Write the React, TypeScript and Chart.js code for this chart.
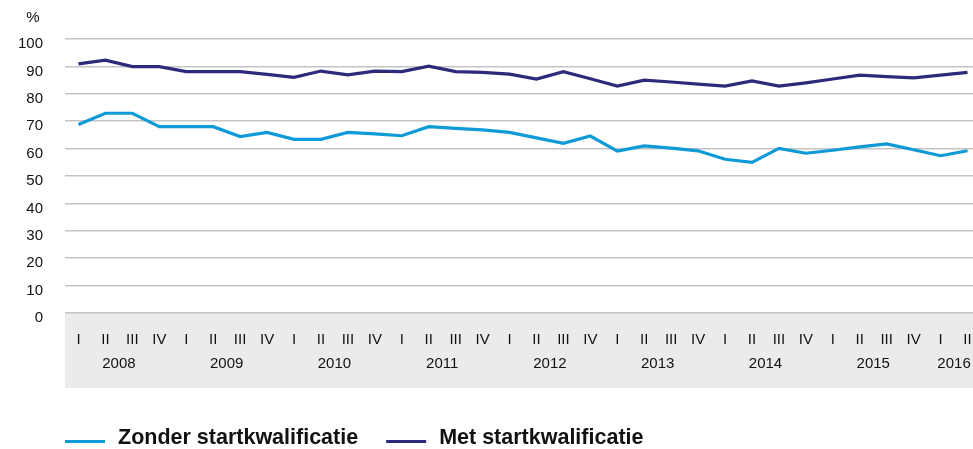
import React, { useEffect, useRef } from "react";
import { Chart, registerables } from "chart.js";

Chart.register(...registerables);

const QUARTERS = [
  "I", "II", "III", "IV", "I", "II", "III", "IV", "I", "II", "III", "IV",
  "I", "II", "III", "IV", "I", "II", "III", "IV", "I", "II", "III", "IV",
  "I", "II", "III", "IV", "I", "II", "III", "IV", "I", "II",
];
const YEARS = ["2008", "2009", "2010", "2011", "2012", "2013", "2014", "2015", "2016"];

const ZONDER = [
  68.8, 72.9, 72.9, 68.0, 68.0, 68.0, 64.4, 65.9, 63.4, 63.4, 65.9, 65.4,
  64.7, 68.0, 67.4, 66.8, 65.9, 63.9, 61.9, 64.6, 59.1, 61.0, 60.2, 59.2,
  56.1, 55.0, 60.1, 58.3, 59.4, 60.6, 61.7, 59.6, 57.4, 59.2,
];
const MET = [
  90.9, 92.3, 89.9, 89.9, 88.1, 88.1, 88.1, 87.1, 86.0, 88.3, 86.9, 88.3,
  88.1, 90.1, 88.1, 87.8, 87.2, 85.4, 88.1, 85.5, 82.8, 85.0, 84.3, 83.5,
  82.8, 84.7, 82.8, 84.0, 85.4, 86.8, 86.3, 85.8, 86.8, 87.8,
];

const SERIES_NAMES = ["Zonder startkwalificatie", "Met startkwalificatie"];
const LIGHT = "#0e9ad7";
const DARK = "#2e2a7b";
const FONT = '"Liberation Sans", Arial, sans-serif';
const TEXT = "#111111";

const decorPlugin = {
  id: "decor",
  beforeDraw(chart: any) {
    const { ctx, chartArea } = chart;
    ctx.save();
    ctx.fillStyle = "#ebebeb";
    ctx.fillRect(chartArea.left, chartArea.bottom, chart.width - chartArea.left, 75);
    ctx.restore();
  },
  afterDraw(chart: any) {
    const { ctx, chartArea } = chart;
    const xs = chart.scales.x;
    ctx.save();
    ctx.fillStyle = TEXT;
    ctx.textAlign = "center";
    ctx.textBaseline = "middle";
    ctx.font = `15px ${FONT}`;
    QUARTERS.forEach((q, i) => {
      ctx.fillText(q, xs.getPixelForValue(i), chartArea.bottom + 27);
    });
    YEARS.forEach((y, k) => {
      const idx: number[] = [];
      for (let i = k * 4; i < Math.min(k * 4 + 4, QUARTERS.length); i++) idx.push(i);
      const cx = idx.reduce((s, i) => s + xs.getPixelForValue(i), 0) / idx.length;
      ctx.fillText(y, cx, chartArea.bottom + 51);
    });
    // % label
    ctx.fillText("%", 33, 18);
    // legend
    const ly = 441.5;
    let x = 65;
    const colors = [LIGHT, DARK];
    SERIES_NAMES.forEach((name, i) => {
      ctx.strokeStyle = colors[i];
      ctx.lineWidth = 3;
      ctx.beginPath();
      ctx.moveTo(x, ly);
      ctx.lineTo(x + 40, ly);
      ctx.stroke();
      ctx.font = `bold 21.5px ${FONT}`;
      ctx.textAlign = "left";
      ctx.fillStyle = TEXT;
      ctx.fillText(name, x + 53, 438.5);
      x = x + 53 + ctx.measureText(name).width + 28;
    });
    ctx.restore();
  },
};

export default function App() {
  const ref = useRef<HTMLCanvasElement | null>(null);
  useEffect(() => {
    if (!ref.current) return;
    const chart = new Chart(ref.current, {
      type: "line",
      data: {
        labels: QUARTERS,
        datasets: [
          { label: SERIES_NAMES[0], data: ZONDER, borderColor: LIGHT, backgroundColor: LIGHT },
          { label: SERIES_NAMES[1], data: MET, borderColor: DARK, backgroundColor: DARK },
        ],
      },
      options: {
        responsive: false,
        animation: false,
        layout: { padding: { top: 39, bottom: 136, left: 0, right: 0 } },
        plugins: { legend: { display: false }, tooltip: { enabled: false } },
        elements: {
          point: { radius: 0 },
          line: { tension: 0, borderWidth: 3.2, borderJoinStyle: "miter" },
        },
        scales: {
          x: { type: "category", display: false, offset: true },
          y: {
            min: 0,
            max: 100,
            ticks: {
              stepSize: 10,
              padding: 22,
              labelOffset: 5,
              color: TEXT,
              font: { family: FONT, size: 15 },
            },
            grid: { color: "#c4c4c4", lineWidth: 1.5, drawTicks: false },
            border: { display: false },
            afterFit: (s: any) => {
              s.width = 65;
            },
          },
        },
      } as any,
      plugins: [decorPlugin],
    });
    return () => chart.destroy();
  }, []);
  return (
    <div
      style={{
        position: "absolute",
        left: 0,
        top: 0,
        width: 973,
        height: 449,
        overflow: "hidden",
        background: "#fff",
      }}
    >
      <canvas ref={ref} width={981} height={449} style={{ display: "block" }} />
    </div>
  );
}
